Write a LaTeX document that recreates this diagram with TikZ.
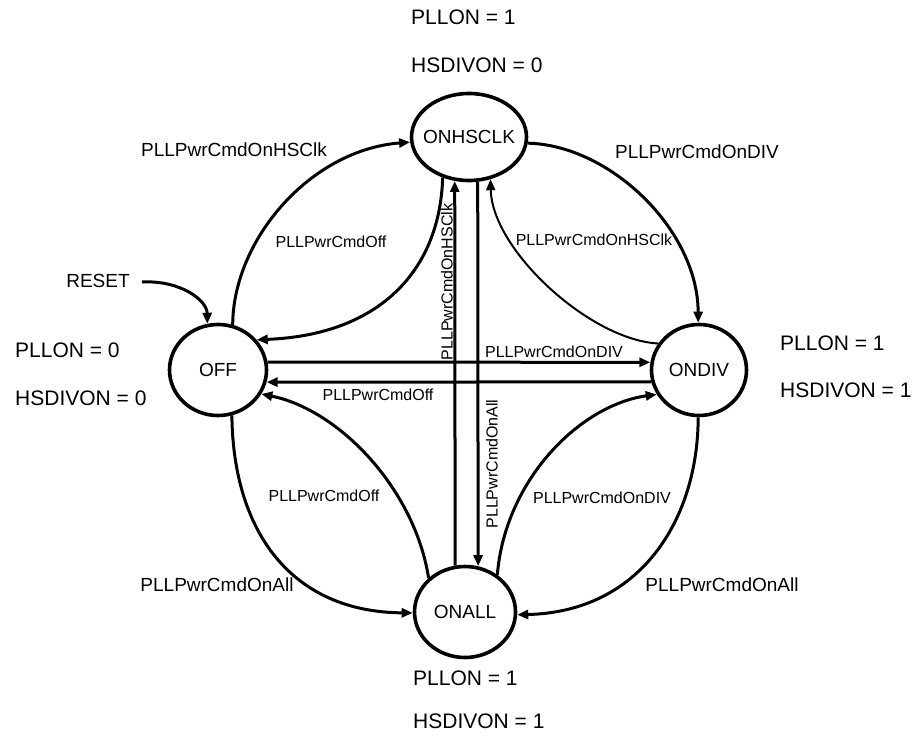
\documentclass[tikz,border=0pt]{standalone}
\usepackage{fontspec}
\setmainfont{Liberation Sans}
\usetikzlibrary{arrows.meta,shapes.geometric}
\begin{document}
\begin{tikzpicture}[x=1pt,y=-1pt,
  state/.style={ellipse,draw,line width=3.6pt,inner sep=0pt},
  stname/.style={font=\fontsize{19}{21}\selectfont,inner sep=0pt},
  info/.style={anchor=west,inner sep=0pt,font=\fontsize{21}{24}\selectfont},
  outlbl/.style={inner sep=0pt,font=\fontsize{19}{22}\selectfont},
  inlbl/.style={inner sep=0pt,font=\fontsize{16}{18}\selectfont},
  tr/.style={line width=3pt,-{Triangle[length=11pt,width=9pt]}},
  thintr/.style={line width=2pt,-{Triangle[length=11pt,width=9pt]}}
]
\useasboundingbox (0,0) rectangle (917,738);

% states
\node[state,minimum width=115pt,minimum height=87pt,label={[stname]center:ONHSCLK}] (onhsclk) at (469,137) {};
\node[state,minimum width=97pt,minimum height=91pt,label={[stname]center:OFF}] (off) at (218,370) {};
\node[state,minimum width=95pt,minimum height=91pt,label={[stname]center:ONDIV}] (ondiv) at (699,370) {};
\node[state,minimum width=101pt,minimum height=91pt,label={[stname]center:ONALL}] (onall) at (465,612) {};

% state annotations
\node[info] (i1) at (411,17) {PLLON = 1};
\node[info] (i2) at (411,65) {HSDIVON = 0};
\node[info] (i3) at (15,350) {PLLON = 0};
\node[info] (i4) at (15,398) {HSDIVON = 0};
\node[info] (i5) at (780,343) {PLLON = 1};
\node[info] (i6) at (780,390) {HSDIVON = 1};
\node[info] (i7) at (413,678) {PLLON = 1};
\node[info] (i8) at (413,721) {HSDIVON = 1};

% reset
\node[outlbl] (reset) at (98,281) {RESET};
\coordinate (rs) at (142,282);
\draw[tr] (rs) .. controls (180,280) and (207,300) .. (off.103);

% outer arcs
\draw[tr] (off.72) .. controls (233,240) and (310,150) .. (onhsclk.185);
\draw[tr] (onhsclk.354) .. controls (610,145) and (698,230) .. (ondiv.91);
\draw[tr] (ondiv.269) .. controls (698,520) and (640,612) .. (onall.357);
\draw[tr] (off.287) .. controls (233,530) and (290,612) .. (onall.181);

% inner arcs
\draw[tr] (onhsclk.237) .. controls (440,270) and (380,335) .. (off.38);
\draw[thintr] (ondiv.147) .. controls (590,340) and (492,250) .. (onhsclk.297);
\draw[tr] (onall.137) .. controls (415,490) and (340,410) .. (off.331);
\draw[tr] (onall.49) .. controls (505,480) and (580,405) .. (ondiv.210);

% straight arrows
\draw[tr] (off.9) -- (ondiv.171);
\draw[tr] (ondiv.194) -- (off.346);
\draw[tr] (onall.102) -- (onhsclk.252);
\draw[tr] (onhsclk.281) -- (onall.74);

% outer labels
\node[outlbl] (l1) at (234,150) {PLLPwrCmdOnHSClk};
\node[outlbl] (l2) at (697,152) {PLLPwrCmdOnDIV};
\node[outlbl] (l3) at (217,585) {PLLPwrCmdOnAll};
\node[outlbl] (l4) at (722,585) {PLLPwrCmdOnAll};

% inner labels
\node[inlbl] (l5) at (331,242) {PLLPwrCmdOff};
\node[inlbl] (l6) at (594,240) {PLLPwrCmdOnHSClk};
\node[inlbl] (l7) at (324,496) {PLLPwrCmdOff};
\node[inlbl] (l8) at (602,498) {PLLPwrCmdOnDIV};
\node[inlbl] (l9) at (554,352) {PLLPwrCmdOnDIV};
\node[inlbl] (l10) at (378,395) {PLLPwrCmdOff};
\node[inlbl,rotate=90] (l11) at (447,282) {PLLPwrCmdOnHSClk};
\node[inlbl,rotate=90] (l12) at (492,464) {PLLPwrCmdOnAll};
\end{tikzpicture}
\end{document}
